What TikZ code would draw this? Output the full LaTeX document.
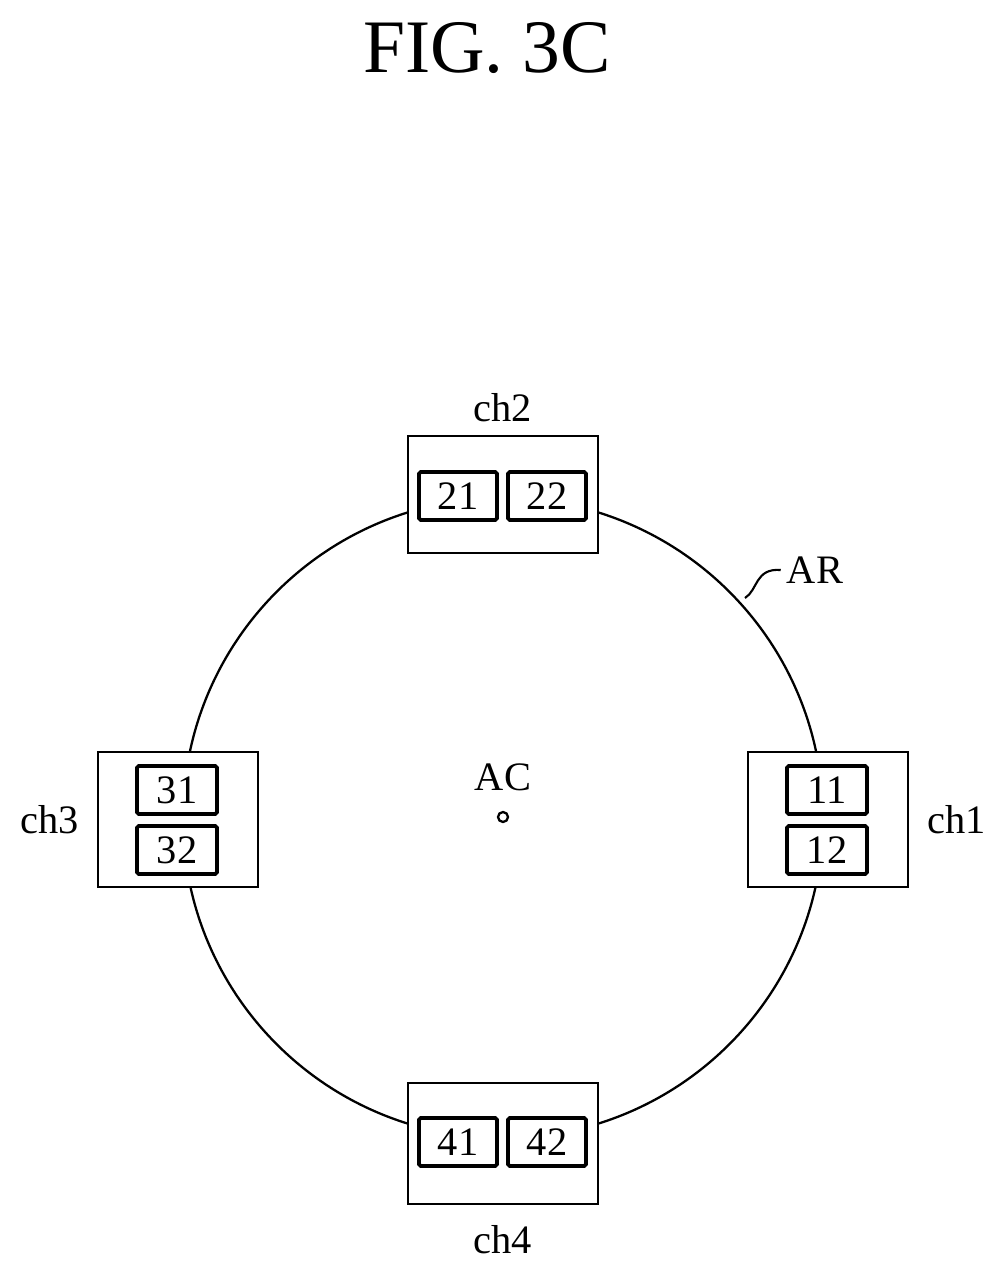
\documentclass[tikz,border=0pt]{standalone}
\usepackage{fontspec}
\setmainfont{Liberation Serif}
\begin{document}
\begin{tikzpicture}[x=0.02cm,y=-0.02cm,
  outer/.style={draw,fill=white,line width=1.6pt},
  inner/.style={draw,fill=white,line width=2.1pt,rounded corners=1pt,inner sep=0pt,minimum width=1.6cm,minimum height=0.96cm,font=\fontsize{23}{25}\selectfont},
  lbl/.style={font=\fontsize{23}{25}\selectfont}]
\useasboundingbox (0,0) rectangle (1007,1273);
\node[font=\fontsize{43}{46}\selectfont] (title) at (487,48) {FIG. 3C};
\draw[line width=1.3pt] (503,818) circle (320);
\node[draw,circle,line width=1.3pt,inner sep=0pt,minimum size=0.2cm] (acpt) at (503,817) {};
\node[lbl] (ac) at (503,777) {AC};
% ch1
\draw[outer] (748,752) rectangle (908,887);
\node[inner] (b11) at (827,790) {11};
\node[inner] (b12) at (827,850) {12};
\node[lbl] (ch1) at (957,820) {ch1};
% ch3
\draw[outer] (98,752) rectangle (258,887);
\node[inner] (b31) at (177,790) {31};
\node[inner] (b32) at (177,850) {32};
\node[lbl] (ch3) at (50,820) {ch3};
% ch2
\draw[outer] (408,436) rectangle (598,553);
\node[inner,minimum width=1.56cm] (b21) at (458,496) {21};
\node[inner,minimum width=1.56cm] (b22) at (547,496) {22};
\node[lbl] (ch2) at (503,408) {ch2};
% ch4
\draw[outer] (408,1083) rectangle (598,1204);
\node[inner,minimum width=1.56cm] (b41) at (458,1142) {41};
\node[inner,minimum width=1.56cm] (b42) at (547,1142) {42};
\node[lbl] (ch4) at (503,1240) {ch4};
% AR
\node[lbl] (ar) at (815,570) {AR};
\coordinate (arp) at (745,598);
\draw[line width=1.2pt] (arp) .. controls (758,590) and (755,568) .. (ar.west);
\end{tikzpicture}
\end{document}
